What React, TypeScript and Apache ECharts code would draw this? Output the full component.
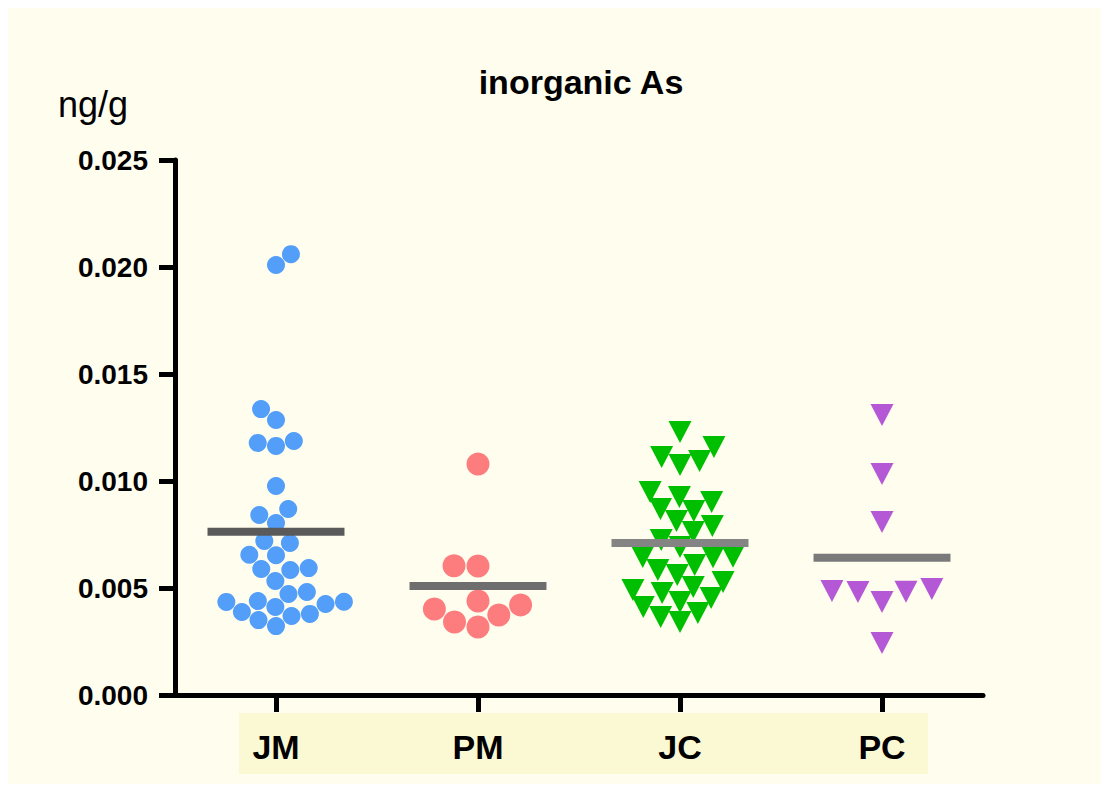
import React, { useEffect, useRef } from "react";
import * as echarts from "echarts";

const categories = ["JM", "PM", "JC", "PC"];

const jmValues = [
  0.02009, 0.0206, 0.01336, 0.01285, 0.01187, 0.01164, 0.01178, 0.00977, 0.00841, 0.00869,
  0.00804, 0.0072, 0.0071, 0.00655, 0.00653, 0.00593, 0.00584, 0.00589, 0.00533, 0.00472,
  0.00481, 0.00425, 0.00435, 0.00436, 0.00439, 0.00411, 0.00388, 0.00369, 0.00379, 0.0035,
  0.00322,
];
const pmValues = [0.01079, 0.00603, 0.00604, 0.00421, 0.00374, 0.00318, 0.00341, 0.00402, 0.00439];
const jcValues = [
  0.01229, 0.01159, 0.01112, 0.01075, 0.01094, 0.00949, 0.00925, 0.00902, 0.0086, 0.00869,
  0.00813, 0.0079, 0.00762, 0.00724, 0.00692, 0.00645, 0.00646, 0.00644, 0.00607, 0.00584,
  0.00561, 0.00528, 0.00505, 0.00491, 0.00477, 0.00435, 0.00453, 0.00411, 0.00383, 0.00365,
  0.00341,
];
const pcValues = [0.01308, 0.01033, 0.00808, 0.00486, 0.00481, 0.00435, 0.00482, 0.00495, 0.00243];

const yMin = 0;
const yMax = 0.025;
const yStep = 0.005;

const W = 1093;
const H = 776;
const GRID = { left: 167, top: 152, width: 808, height: 535 };
const BAND_PX = GRID.width / categories.length;
const Y_PX = GRID.height / (yMax - yMin);

function swarm(values: number[], gap: number): number[] {
  const placed: { x: number; y: number }[] = [];
  const out: number[] = new Array(values.length).fill(0);
  const order = values.map((v, i) => i).sort((a, b) => values[a] - values[b]);
  for (const i of order) {
    const y = values[i] * Y_PX;
    const cands = [0];
    for (const p of placed) {
      const dy = Math.abs(p.y - y);
      if (dy < gap) {
        const dx = Math.sqrt(gap * gap - dy * dy);
        cands.push(p.x + dx, p.x - dx);
      }
    }
    const ok = cands.filter((c) =>
      placed.every((q) => (c - q.x) ** 2 + (y - q.y) ** 2 >= gap * gap - 0.01)
    );
    ok.sort((a, b) => Math.abs(a) - Math.abs(b));
    let best = ok[0];
    if (ok.length > 1 && Math.abs(Math.abs(ok[1]) - Math.abs(ok[0])) < 0.5 && ok[0] !== ok[1]) {
      const left = placed.filter((q) => q.x < 0).length;
      const right = placed.filter((q) => q.x > 0).length;
      const neg = Math.min(ok[0], ok[1]);
      const pos = Math.max(ok[0], ok[1]);
      best = left <= right ? neg : pos;
    }
    placed.push({ x: best, y });
    out[i] = best / BAND_PX;
  }
  return out;
}

const groups = [
  { values: jmValues, color: "#529ef9", symbol: "circle", size: 18, gap: 18.5, rotate: 0, mean: "#5a5a5a" },
  { values: pmValues, color: "#fd7c7e", symbol: "circle", size: 23, gap: 24, rotate: 0, mean: "#6e6e6e" },
  { values: jcValues, color: "#00bf00", symbol: "triangle", size: [23, 22], gap: 20, rotate: 180, mean: "#848484" },
  { values: pcValues, color: "#b458d6", symbol: "triangle", size: [23, 22], gap: 26, rotate: 180, mean: "#7a7a7a" },
];

const FONT = "'Liberation Sans', Arial, sans-serif";

export default function App() {
  const ref = useRef<HTMLDivElement>(null);
  useEffect(() => {
    if (!ref.current) return;
    const chart = echarts.init(ref.current, null, { renderer: "svg" });
    const scatterSeries = groups.map((g, gi) => {
      const offs = swarm(g.values, g.gap);
      return {
        type: "scatter",
        name: categories[gi],
        xAxisIndex: 1,
        yAxisIndex: 0,
        symbol: g.symbol,
        symbolSize: g.size,
        symbolRotate: g.rotate,
        itemStyle: { color: g.color, opacity: 1 },
        z: 2,
        data: g.values.map((v, i) => [gi + offs[i], v]),
      };
    });
    const means = groups.map((g) => g.values.reduce((a, b) => a + b, 0) / g.values.length);
    const meanSeries = {
      type: "custom",
      xAxisIndex: 1,
      yAxisIndex: 0,
      z: 5,
      data: means.map((m, i) => [i, m]),
      renderItem: (params: any, api: any) => {
        const i = api.value(0);
        const m = api.value(1);
        const half = 0.339;
        const p1 = api.coord([i - half, m]);
        const p2 = api.coord([i + half, m]);
        return {
          type: "rect",
          shape: { x: p1[0], y: p1[1] - 4, width: p2[0] - p1[0], height: 8 },
          style: { fill: groups[i].mean },
        };
      },
    };
    chart.setOption({
      animation: false,
      backgroundColor: "#fefdee",
      title: {
        text: "inorganic As",
        left: 573,
        top: 74,
        padding: 0,
        textAlign: "center",
        textVerticalAlign: "middle",
        textStyle: { fontFamily: FONT, fontSize: 34, fontWeight: "bold", color: "#000" },
      },
      graphic: [
        {
          type: "rect",
          z: -10,
          shape: { x: 231, y: 705, width: 689, height: 61 },
          style: { fill: "#fbf9d4" },
        },
        {
          type: "text",
          x: 50,
          y: 96.5,
          style: {
            text: "ng/g",
            fontFamily: FONT,
            fontSize: 36,
            fill: "#000",
            align: "left",
            verticalAlign: "middle",
          },
        },
      ],
      grid: { left: GRID.left, top: GRID.top, width: GRID.width, height: GRID.height },
      xAxis: [
        {
          type: "category",
          data: categories,
          boundaryGap: true,
          axisLine: { show: true, onZero: false, lineStyle: { color: "#000", width: 5 } },
          axisTick: { show: true, alignWithLabel: true, length: 17, lineStyle: { color: "#000", width: 5 } },
          axisLabel: { fontFamily: FONT, fontSize: 34, fontWeight: "bold", color: "#000", margin: 35 },
          splitLine: { show: false },
        },
        {
          type: "value",
          min: -0.5,
          max: 3.5,
          show: false,
          splitLine: { show: false },
        },
      ],
      yAxis: {
        type: "value",
        min: yMin,
        max: yMax,
        interval: yStep,
        axisLine: { show: true, onZero: false, lineStyle: { color: "#000", width: 5 } },
        axisTick: { show: true, length: 16, lineStyle: { color: "#000", width: 5 } },
        axisLabel: {
          fontFamily: FONT,
          fontSize: 28,
          fontWeight: "bold",
          color: "#000",
          margin: 27,
          formatter: (v: number) => v.toFixed(3),
        },
        splitLine: { show: false },
      },
      series: [...scatterSeries, meanSeries],
    });
    return () => chart.dispose();
  }, []);
  return <div ref={ref} style={{ width: W, height: H }} />;
}
